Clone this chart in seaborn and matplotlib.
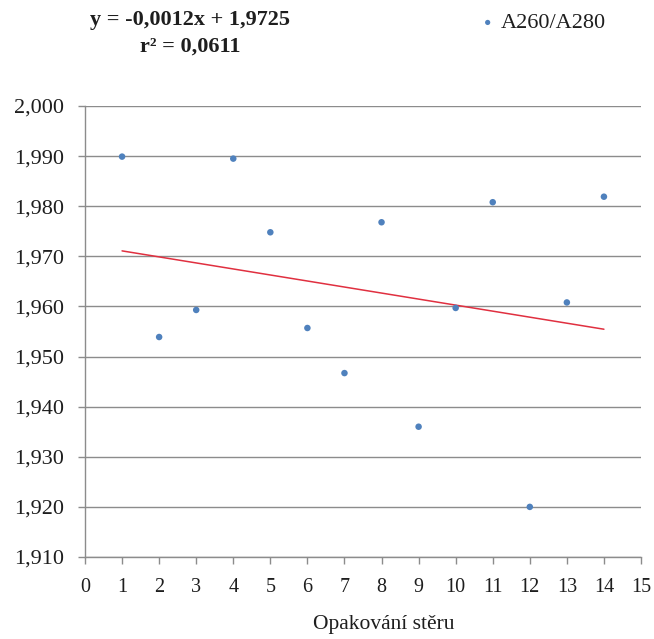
import matplotlib
matplotlib.use("Agg")
import matplotlib.pyplot as plt
import matplotlib.ticker as mticker
import seaborn as sns
import pandas as pd
import numpy as np

# Data
opakovani = [1, 2, 3, 4, 5, 6, 7, 8, 9, 10, 11, 12, 13, 14]
a260_a280 = [1.9899, 1.9539, 1.9593, 1.9895, 1.9748, 1.9557, 1.9467,
             1.9768, 1.9360, 1.9597, 1.9808, 1.9200, 1.9608, 1.9819]
x_ticks = list(range(0, 16))
y_ticks = [1.910, 1.920, 1.930, 1.940, 1.950, 1.960, 1.970, 1.980, 1.990, 2.000]
equation_text = "y = -0,0012x + 1,9725"
r2_text = "r² = 0,0611"
series_label = "A260/A280"
x_label = "Opakování stěru"

df = pd.DataFrame({"x": opakovani, "y": a260_a280})

sns.set_theme(style="white")
plt.rcParams["font.family"] = ["Liberation Serif", "DejaVu Serif"]

W, H = 654, 639
fig = plt.figure(figsize=(W / 100, H / 100), dpi=100)
ax_l, ax_r, ax_t, ax_b = 85, 641, 106, 557
ax = fig.add_axes([ax_l / W, 1 - ax_b / H, (ax_r - ax_l) / W, (ax_b - ax_t) / H])

grid_col = "#8c8c8c"
text_col = "#1e1e1e"
sns.regplot(data=df, x="x", y="y", scatter=False, ci=None, ax=ax,
            line_kws=dict(color="#e03040", lw=1.1, label="_nolegend_"))
sns.scatterplot(data=df, x="x", y="y", ax=ax, color="#4f81bd", s=22,
                edgecolor="none", label=series_label, zorder=3)

ax.set_xlim(0, 15)
ax.set_ylim(1.910, 2.000)
ax.set_xticks(x_ticks)
ax.set_yticks(y_ticks)
ax.yaxis.set_major_formatter(mticker.FuncFormatter(lambda v, p: f"{v:.3f}".replace(".", ",")))
ax.grid(axis="y", color=grid_col, lw=1.0)
ax.grid(axis="x", visible=False)
ax.set_axisbelow(True)
for s in ["top", "right"]:
    ax.spines[s].set_visible(False)
for s in ["left", "bottom"]:
    ax.spines[s].set_color(grid_col)
    ax.spines[s].set_linewidth(1.0)
ax.tick_params(axis="both", which="major", direction="out", length=5, width=1,
               color=grid_col, labelcolor=text_col, left=True, bottom=True)
ax.tick_params(axis="x", pad=10, labelsize=14.5)
ax.tick_params(axis="y", pad=10, labelsize=16)
ax.set_ylabel("")
ax.set_xlabel(x_label, fontsize=15.5, color=text_col)
ax.xaxis.set_label_coords((384 - ax_l) / (ax_r - ax_l), -(625 - ax_b) / (ax_b - ax_t))
ax.xaxis.label.set_va("center")

leg = ax.legend(loc="center left", bbox_to_anchor=(481 / W, 1 - 23 / H),
                bbox_transform=fig.transFigure, frameon=False, fontsize=16,
                handlelength=0.6, handletextpad=0.3, markerscale=0.8,
                borderpad=0, borderaxespad=0)
for t in leg.get_texts():
    t.set_color(text_col)

fig.text(190 / W, 1 - 20 / H, equation_text, ha="center", va="center", fontsize=16,
         fontweight="bold", color=text_col)
fig.text(190 / W, 1 - 47 / H, r2_text, ha="center", va="center", fontsize=16,
         fontweight="bold", color=text_col)

fig.savefig("out.png", dpi=100)
